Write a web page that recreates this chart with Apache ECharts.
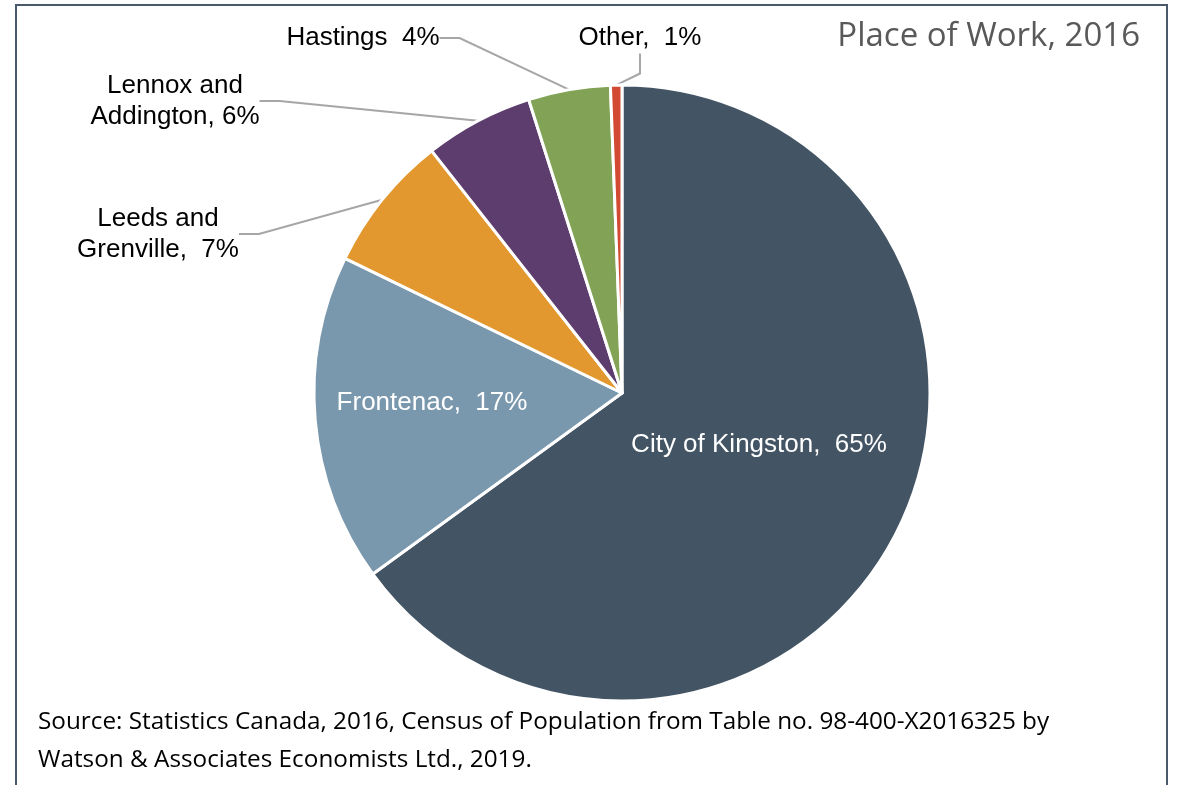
<!DOCTYPE html>
<html>
<head>
<meta charset="utf-8">
<script src="https://cdn.jsdelivr.net/npm/echarts@6/dist/echarts.min.js"></script>
<style>
  html, body { margin: 0; padding: 0; background: #fff; }
  #chart { width: 1181px; height: 785px; }
</style>
</head>
<body>
<div id="chart"></div>
<script>
// place of work shares, 2016
var places = ['City of Kingston', 'Frontenac', 'Leeds and\nGrenville', 'Lennox and\nAddington', 'Hastings', 'Other'];
var shares = [65.0, 17.2, 7.2, 5.7, 4.3, 0.6];
var seps = [',  ', ',  ', ',  ', ', ', '  ', ',  '];
var colors = ['#435464', '#7a98ad', '#e3982f', '#5c3d6e', '#82a356', '#d24a32'];
var insideLabel = [true, true, false, false, false, false];

// where each label sits on the page
var labelSpots = [
  { x: 759, y: 445 },
  { x: 432, y: 403 },
  { x: 158, y: 234 },
  { x: 175, y: 101 },
  { x: 363, y: 38 },
  { x: 640, y: 38 }
];

var myChart = echarts.init(document.getElementById('chart'));

var data = [];
for (var i = 0; i < places.length; i++) {
  data.push({
    name: places[i],
    value: shares[i],
    itemStyle: { color: colors[i] },
    label: {
      position: insideLabel[i] ? 'inside' : 'outside',
      color: insideLabel[i] ? '#ffffff' : '#000000'
    },
    labelLine: { show: !insideLabel[i] }
  });
}

myChart.setOption({
  animation: false,
  title: {
    text: 'Place of Work, 2016',
    right: 36,
    top: 15,
    textStyle: {
      fontFamily: 'Open Sans',
      fontWeight: 'normal',
      fontSize: 33,
      color: '#595959'
    }
  },
  graphic: [
    {
      // outer frame
      type: 'rect',
      shape: { x: 16, y: 5, width: 1151, height: 800 },
      style: { fill: 'none', stroke: '#4a5a6c', lineWidth: 2 },
      silent: true
    },
    {
      type: 'text',
      left: 38,
      top: 703,
      style: {
        text: 'Source: Statistics Canada, 2016, Census of Population from Table no. 98-400-X2016325 by\nWatson & Associates Economists Ltd., 2019.',
        fontFamily: 'Open Sans',
        fontSize: 24.3,
        lineHeight: 38,
        fill: '#000000'
      }
    }
  ],
  series: [{
    type: 'pie',
    center: [622, 393],
    radius: 308,
    startAngle: 90,
    clockwise: true,
    avoidLabelOverlap: false,
    itemStyle: { borderColor: '#ffffff', borderWidth: 3 },
    label: {
      fontFamily: 'Liberation Sans, Arial',
      fontSize: 26,
      lineHeight: 31,
      align: 'center',
      formatter: function (p) {
        return p.name + seps[p.dataIndex] + Math.round(p.percent) + '%';
      }
    },
    labelLine: {
      lineStyle: { color: '#a6a6a6', width: 2 },
      length: 20,
      length2: 20
    },
    labelLayout: function (params) {
      var s = labelSpots[params.dataIndex];
      return { x: s.x, y: s.y, align: 'center', verticalAlign: 'middle' };
    },
    data: data
  }]
});
</script>
</body>
</html>
